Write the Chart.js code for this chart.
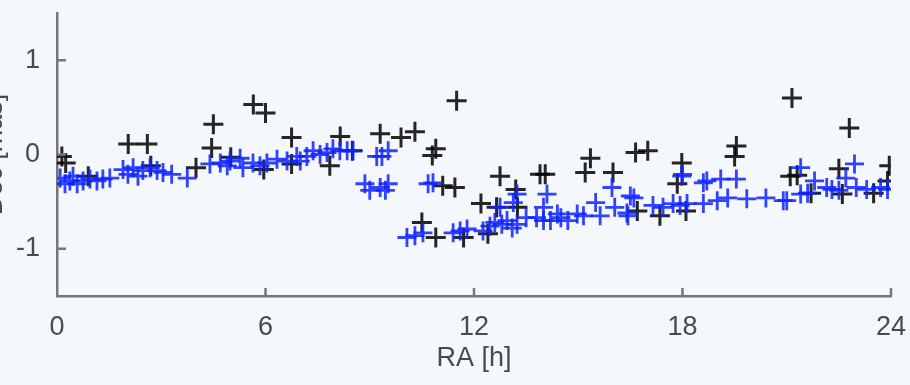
<!DOCTYPE html>
<html>
<head>
<meta charset="utf-8">
<script src="https://cdn.jsdelivr.net/npm/chart.js@4/dist/chart.umd.min.js"></script>
<style>
  html, body { margin: 0; padding: 0; background: #f4f7fb; }
  #wrap { position: relative; width: 910px; height: 385px; overflow: hidden; }
  #chart { position: absolute; left: -26px; top: 0; }
</style>
</head>
<body>
<div id="wrap"><canvas id="chart" width="936" height="385"></canvas></div>
<script>
// black: all points
const blackRa = [0.14, 0.25, 0.9, 2.05, 2.6, 2.7, 4.0, 4.45, 4.5, 5.0, 5.65, 6.0, 5.95, 6.75, 6.75,
  7.85, 8.15, 8.5, 9.3, 9.9, 10.3, 10.8, 10.9, 11.5, 11.1, 11.45, 10.5, 10.9, 11.7, 12.2, 12.4,
  12.65, 12.75, 13.2, 13.25, 13.9, 14.05, 15.2, 15.35, 16.0, 16.65, 17.0, 16.7, 17.35, 17.85,
  17.98, 18.1, 19.5, 19.55, 21.1, 21.15, 21.3, 21.7, 22.5, 22.6, 22.8, 23.5, 23.9, 23.95];
const blackDec = [-0.02, -0.09, -0.23, 0.11, 0.11, -0.12, -0.14, 0.07, 0.32, -0.03, 0.53, 0.44, -0.16, 0.18, -0.10,
  -0.12, 0.19, 0.04, 0.22, 0.18, 0.24, -0.01, 0.06, 0.57, -0.33, -0.35, -0.72, -0.88, -0.88, -0.52, -0.84,
  -0.56, -0.23, -0.37, -0.56, -0.21, -0.21, -0.19, -0.04, -0.19, 0.02, 0.04, -0.60, -0.65, -0.31,
  -0.09, -0.60, -0.02, 0.09, -0.23, 0.60, -0.22, -0.41, -0.15, -0.42, 0.28, -0.41, -0.28, -0.12];

// blue: selected points
const blueRa = [0.09, 0.23, 0.37, 0.46, 0.58, 0.75, 0.95, 1.15, 1.32, 1.52, 1.9, 2.04, 2.19, 2.33, 2.47,
  2.68, 2.88, 3.05, 3.3, 3.75,
  4.4, 4.7, 4.9, 4.98, 5.27, 5.35, 5.64, 5.84, 6.04, 6.33, 6.62, 6.9, 7.0, 7.19, 7.37, 7.57, 7.77,
  7.94, 8.14, 8.35, 8.52,
  8.86, 9.0, 9.2, 9.3, 9.35, 9.45, 9.53, 9.53, 10.68, 10.82,
  10.07, 10.3, 10.53, 11.4, 11.6, 11.8,
  12.26, 12.46, 12.6, 12.75, 12.8, 12.95, 13.1, 13.13, 13.24, 13.24, 13.5, 13.8, 14.0, 14.0, 14.1,
  14.2, 14.4, 14.5, 14.7, 14.97, 15.15, 15.5, 15.63, 15.97, 16.05, 16.4, 16.43, 16.5, 16.6, 17.15,
  17.44, 17.73, 17.93, 17.98, 18.0, 18.13, 18.6, 18.6, 18.7, 19.0, 19.1, 19.3, 19.55, 19.85, 20.4,
  20.9, 21.0, 21.4, 21.4, 21.6, 21.8, 22.15, 22.3, 22.5, 22.7, 22.95, 23.0, 23.3, 23.7, 23.9];
const blueDec = [-0.25, -0.31, -0.28, -0.23, -0.31, -0.28, -0.26, -0.28, -0.26, -0.25, -0.16, -0.21, -0.14, -0.23, -0.17,
  -0.14, -0.17, -0.19, -0.21, -0.25,
  -0.10, -0.09, -0.12, -0.07, -0.04, -0.14, -0.09, -0.12, -0.09, -0.05, -0.07, -0.02, -0.07, -0.02, 0.04, 0.0, 0.02,
  0.06, 0.04, 0.04, 0.04,
  -0.31, -0.38, -0.02, -0.35, -0.02, -0.38, -0.31, 0.04, -0.31, -0.30,
  -0.88, -0.86, -0.83, -0.83, -0.81, -0.79,
  -0.81, -0.76, -0.72, -0.56, -0.74, -0.70, -0.78, -0.51, -0.74, -0.42, -0.67, -0.67, -0.56, -0.70, -0.42,
  -0.70, -0.63, -0.67, -0.70, -0.63, -0.65, -0.51, -0.65, -0.35, -0.56, -0.62, -0.65, -0.44, -0.46, -0.54,
  -0.56, -0.52, -0.54, -0.23, -0.21, -0.52, -0.30, -0.52, -0.28, -0.49, -0.26, -0.46, -0.26, -0.47, -0.46,
  -0.49, -0.49, -0.14, -0.42, -0.41, -0.28, -0.35, -0.37, -0.38, -0.25, -0.10, -0.35, -0.37, -0.35, -0.37];

const xTicks = [0, 6, 12, 18, 24];
const yTicks = [-1, 0, 1];

const axisColor = '#777';
const textColor = '#4a4a4a';
const font = { family: "'Liberation Sans', Arial, sans-serif", size: 27 };

function toPoints(xs, ys) {
  return xs.map((x, i) => ({ x: x, y: ys[i] }));
}

// MATLAB-style ticks that point into the plot
const innerTicks = {
  id: 'innerTicks',
  afterDraw(chart) {
    const { ctx, scales } = chart;
    const x = scales.x;
    const y = scales.y;
    ctx.save();
    ctx.strokeStyle = axisColor;
    ctx.lineWidth = 2.5;
    ctx.beginPath();
    for (const v of xTicks.slice(1)) {
      const px = x.getPixelForValue(v);
      ctx.moveTo(px, y.bottom);
      ctx.lineTo(px, y.bottom - 8);
    }
    for (const v of yTicks) {
      const py = y.getPixelForValue(v);
      ctx.moveTo(x.left, py);
      ctx.lineTo(x.left + 9, py);
    }
    ctx.stroke();
    ctx.restore();
  },
};

new Chart(document.getElementById('chart'), {
  type: 'scatter',
  data: {
    datasets: [
      {
        data: toPoints(blueRa, blueDec),
        pointStyle: 'cross',
        radius: 9.5,
        borderWidth: 2.8,
        borderColor: 'rgba(15, 35, 255, 0.85)',
        backgroundColor: 'rgba(15, 35, 255, 0.85)',
      },
      {
        data: toPoints(blackRa, blackDec),
        pointStyle: 'cross',
        radius: 10,
        borderWidth: 3,
        borderColor: 'rgba(0, 0, 0, 0.85)',
        backgroundColor: 'rgba(0, 0, 0, 0.85)',
      },
    ],
  },
  options: {
    responsive: false,
    animation: false,
    events: [],
    layout: { padding: { top: 12, right: 19, left: 0, bottom: 0 } },
    plugins: { legend: { display: false }, tooltip: { enabled: false } },
    scales: {
      x: {
        type: 'linear',
        min: 0,
        max: 24,
        afterBuildTicks: (scale) => { scale.ticks = xTicks.map((v) => ({ value: v })); },
        afterFit: (scale) => {
          scale.height = 89;
          scale.paddingLeft = 0;
          scale.paddingRight = 0;
        },
        grid: { display: true, drawOnChartArea: false, drawTicks: false },
        border: { color: axisColor, width: 2.5 },
        ticks: { color: textColor, font: font, padding: 15, maxRotation: 0 },
        title: { display: true, text: 'RA [h]', color: textColor, font: font, padding: { top: 0, bottom: 10 } },
      },
      y: {
        type: 'linear',
        min: -1.5,
        max: 1.5,
        afterBuildTicks: (scale) => { scale.ticks = yTicks.map((v) => ({ value: v })); },
        afterFit: (scale) => {
          scale.width = 83;
          scale.paddingTop = 0;
          scale.paddingBottom = 0;
        },
        grid: { display: true, drawOnChartArea: false, drawTicks: false },
        border: { color: axisColor, width: 2.5 },
        ticks: { color: textColor, font: font, padding: 17 },
        title: { display: true, text: 'Dec [mas]', color: textColor, font: font, padding: 4 },
      },
    },
  },
  plugins: [innerTicks],
});
</script>
</body>
</html>
